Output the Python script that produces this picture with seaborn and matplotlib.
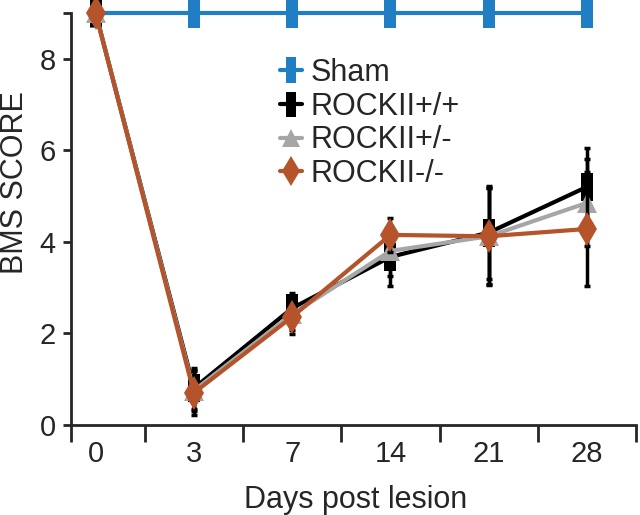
import numpy as np
import pandas as pd
import matplotlib
matplotlib.use("Agg")
import matplotlib.pyplot as plt
import seaborn as sns
from matplotlib.lines import Line2D

# =========================
# Data
# =========================
days = ["0", "3", "7", "14", "21", "28"]
sham = [9, 9, 9, 9, 9, 9]
wt = [9, 0.80, 2.55, 3.67, 4.20, 5.20]
wt_err = [0, 0.45, 0.33, 0.64, 1.02, 0.85]
het = [9, 0.75, 2.42, 3.80, 4.12, 4.85]
het_err = [0, 0.45, 0.35, 0.55, 1.05, 0.95]
ko = [9, 0.70, 2.36, 4.15, 4.12, 4.28]
ko_err = [0, 0.48, 0.38, 0.37, 1.06, 1.25]

names = ["Sham", "ROCKII+/+", "ROCKII+/-", "ROCKII-/-"]
colors = ["#1f7ec4", "#000000", "#a6a6a6", "#b5532a"]

# tall rectangle marker used by the prism-style plot
rect = [(-0.2, -0.5), (0.2, -0.5), (0.2, 0.5), (-0.2, 0.5), (-0.2, -0.5)]
markers = [rect, rect, "^", "d"]
msizes = [21, 20, 15, 17]

sns.set_style("ticks")
plt.rcParams['font.family'] = ['Liberation Sans', 'DejaVu Sans']

fig = plt.figure(figsize=(6.4, 5.15), dpi=100)
ax = fig.add_axes([0.111, 0.175, 0.883, 0.800])

x = np.arange(len(days))
series = [(sham, None), (wt, wt_err), (het, het_err), (ko, ko_err)]

for i, (vals, err) in enumerate(series):
    df = pd.DataFrame({"x": x, "y": vals})
    if err is not None:
        ax.errorbar(x, vals, yerr=err, fmt="none", ecolor="black",
                    elinewidth=2.5, capsize=2, capthick=2.5, zorder=2 + i)
    sns.lineplot(data=df, x="x", y="y", ax=ax, color=colors[i],
                 marker=markers[i], markersize=msizes[i],
                 markeredgewidth=0, linewidth=3, zorder=3 + i,
                 clip_on=False, legend=False)

# =========================
# Axes styling
# =========================
ax.set_xlim(-0.25, 5.5)
ax.set_ylim(0, 9)
ax.set_xticks(x)
ax.set_xticklabels(days, fontsize=21)
ax.tick_params(axis="x", which="major", length=0, pad=11)
ax.set_xticks([-0.25, 0.5, 1.5, 2.5, 3.5, 4.5, 5.5], minor=True)
ax.tick_params(axis="x", which="minor", length=12, width=2, direction="out")
ax.set_yticks([0, 2, 4, 6, 8, 9])
ax.set_yticklabels(["0", "2", "4", "6", "8", ""], fontsize=21)
ax.tick_params(axis="y", length=6, width=2, pad=5)
for s in ["left", "bottom"]:
    ax.spines[s].set_linewidth(2)
sns.despine(ax=ax)

ax.set_xlabel("Days post lesion", fontsize=22)
ax.set_ylabel("BMS SCORE", fontsize=22)
ax.xaxis.set_label_coords(0.504, -0.146)
ax.yaxis.set_label_coords(-0.073, 0.587)

handles = [Line2D([0], [0], color=colors[i], marker=markers[i],
                  markersize=msizes[i] * 0.9, markeredgewidth=0, linewidth=3)
           for i in range(4)]
ax.legend(handles, names, loc="upper left", bbox_to_anchor=(0.365, 0.898),
          frameon=False, fontsize=22, handlelength=0.7, handletextpad=0.3,
          labelspacing=0.12, borderpad=0.1, borderaxespad=0)

fig.savefig("out.png", dpi=100)
